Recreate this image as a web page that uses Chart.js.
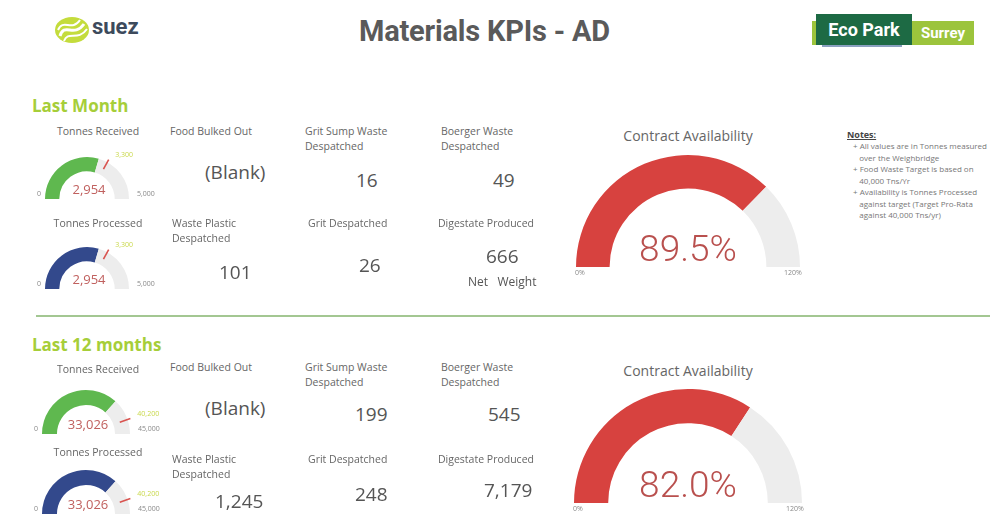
<!DOCTYPE html>
<html>
<head>
<meta charset="utf-8">
<script src="https://cdn.jsdelivr.net/npm/chart.js@4.4.1/dist/chart.umd.min.js"></script>
<style>
  html, body { margin: 0; padding: 0; background: #fff; }
  body { width: 1003px; height: 517px; position: relative; overflow: hidden; font-family: "Open Sans", "DejaVu Sans", sans-serif; }
  .abs { position: absolute; white-space: nowrap; }
  .sect { color: #a6ce39; font-weight: bold; font-size: 17px; }
  .ktitle { color: #666; font-size: 10.5px; line-height: 15px; }
  .kval { color: #555; font-size: 19px; }
  .gtitle { color: #666; font-size: 10.5px; transform: translateX(-50%); }
  .tiny { color: #888; font-size: 7px; }
  .tgt { color: #c9d84a; font-size: 7px; }
  .gval { color: #c0605e; font-size: 13px; transform: translate(-50%, -100%); }
  .bigval { color: #b9504e; font-size: 37px; font-family: Roboto, "Open Sans", sans-serif; font-weight: 300; transform: translate(-50%, -100%); }
  .btitle { color: #666; font-size: 14px; transform: translateX(-50%); }
  canvas { position: absolute; }
  .notes { color: #777; font-size: 8px; line-height: 11.5px; }
</style>
</head>
<body>

<!-- header -->
<svg class="abs" style="left:54px;top:16px" width="36" height="28" viewBox="0 0 36 28">
  <ellipse cx="18" cy="14" rx="17" ry="13" fill="#c4dc3c"/>
  <path d="M6 20 C10 6, 20 22, 30 8" stroke="#fff" stroke-width="3" fill="none"/>
  <path d="M4 14 C9 2, 18 16, 26 4" stroke="#fff" stroke-width="2" fill="none"/>
  <path d="M10 25 C14 14, 24 26, 33 13" stroke="#fff" stroke-width="2" fill="none"/>
</svg>
<div class="abs" style="left:92px;top:14px;font-size:22px;font-weight:bold;color:#3d4a5c;font-family:Roboto,sans-serif;">suez</div>
<div class="abs" style="left:359px;top:14px;font-size:29px;font-weight:bold;color:#5a5a5a;font-family:Roboto,sans-serif;letter-spacing:-0.2px;">Materials KPIs - AD</div>
<div class="abs" style="left:812px;top:21px;width:162px;height:24px;background:#9cc43c;"></div>
<div class="abs" style="left:822px;top:44px;width:80px;height:3px;background:#8aa0c0;"></div>
<div class="abs" style="left:816px;top:14px;width:96px;height:31px;background:#1d6a44;"></div>
<div class="abs" style="left:816px;top:14px;width:96px;line-height:31px;text-align:center;font-size:18px;font-weight:bold;color:#fff;font-family:Roboto,sans-serif;">Eco Park</div>
<div class="abs" style="left:912px;top:21px;width:62px;line-height:24px;text-align:center;font-size:15px;font-weight:bold;color:#fff;font-family:Roboto,sans-serif;">Surrey</div>

<!-- sections -->
<div class="abs sect" style="left:32px;top:94px;">Last Month</div>
<div class="abs" style="left:36px;top:315px;width:954px;height:2px;background:#a3c792;"></div>
<div class="abs sect" style="left:32px;top:333px;">Last 12 months</div>

<!-- notes -->
<div class="abs" style="left:847px;top:128px;font-size:9px;font-weight:bold;color:#444;text-decoration:underline;">Notes:</div>
<div class="abs notes" style="left:853px;top:140px;">
  + All values are in Tonnes measured<br>&nbsp;&nbsp;&nbsp;over the Weighbridge<br>
  + Food Waste Target is based on<br>&nbsp;&nbsp;&nbsp;40,000 Tns/Yr<br>
  + Availability is Tonnes Processed<br>&nbsp;&nbsp;&nbsp;against target (Target Pro-Rata<br>&nbsp;&nbsp;&nbsp;against 40,000 Tns/yr)
</div>

<script>
// gauges: last month received, last month processed, 12 months received, 12 months processed
const gaugeTitles = ["Tonnes Received", "Tonnes Processed", "Tonnes Received", "Tonnes Processed"];
const gaugeValues = [2954, 2954, 33026, 33026];
const gaugeMax = [5000, 5000, 45000, 45000];
const gaugeTargets = [3300, 3300, 40200, 40200];
const gaugeColors = ["#5fb84f", "#33498c", "#5fb84f", "#33498c"];

// contract availability, last month and 12 months (%)
const availValues = [89.5, 82.0];
const availMax = 120;

// KPI cards, last month then 12 months
const kpiTitles = [
  "Food Bulked Out", "Grit Sump Waste<br>Despatched", "Boerger Waste<br>Despatched",
  "Waste Plastic<br>Despatched", "Grit Despatched", "Digestate Produced"
];
const kpiLastMonth = [null, 16, 49, 101, 26, 666];
const kpiLast12 = [null, 199, 545, 1245, 248, 7179];

// layout (page pixels)
const gaugePos = [[87, 199, 42], [87, 289, 42], [86, 434, 44], [86, 514, 44]];
const gaugeTitleY = [124, 216, 362, 445];
const availPos = [[688, 267, 112], [688, 503, 114]];
const availTitleY = [126, 361];
const kpiTitlePos = [[170, 124], [305, 124], [441, 124], [172, 216], [308, 216], [438, 216]];
const kpiValPosLM = [[205, 159], [356, 167], [493, 167], [219, 259], [359, 252], [486, 243]];
const kpiValPosYr = [[205, 395], [355, 401], [488, 401], [215, 488], [355, 481], [484, 477]];

function fmt(v) { return v.toLocaleString("en-US"); }

function addText(cls, x, y, html, style) {
  const d = document.createElement("div");
  d.className = "abs " + cls;
  d.style.left = x + "px";
  d.style.top = y + "px";
  if (style) d.style.cssText += style;
  d.innerHTML = html;
  document.body.appendChild(d);
  return d;
}

const targetMarker = {
  id: "targetMarker",
  afterDatasetsDraw(chart, args, opts) {
    if (opts.target == null) return;
    const arc = chart.getDatasetMeta(0).data[0];
    const ang = -Math.PI + Math.PI * opts.target / opts.max;
    const r1 = arc.innerRadius + (arc.outerRadius - arc.innerRadius) * 0.45;
    const r2 = arc.outerRadius + 3;
    const ctx = chart.ctx;
    ctx.save();
    ctx.strokeStyle = "#d9534f";
    ctx.lineWidth = 1.6;
    ctx.beginPath();
    ctx.moveTo(arc.x + r1 * Math.cos(ang), arc.y + r1 * Math.sin(ang));
    ctx.lineTo(arc.x + r2 * Math.cos(ang), arc.y + r2 * Math.sin(ang));
    ctx.stroke();
    ctx.restore();
  }
};

function makeGauge(cx, cy, r, cutout, value, max, color, target) {
  const pad = 8;
  const c = document.createElement("canvas");
  c.width = 2 * r + 2 * pad;
  c.height = r + pad;
  c.style.left = (cx - r - pad) + "px";
  c.style.top = (cy - r - pad) + "px";
  document.body.appendChild(c);
  return new Chart(c, {
    type: "doughnut",
    data: {
      datasets: [{
        data: [value, max - value],
        backgroundColor: [color, "#ededed"],
        borderWidth: 0
      }]
    },
    options: {
      responsive: false,
      animation: false,
      events: [],
      rotation: -90,
      circumference: 180,
      cutout: cutout,
      layout: { padding: { left: pad, right: pad, top: pad, bottom: 0 } },
      plugins: {
        legend: { display: false },
        tooltip: { enabled: false },
        targetMarker: { target: target, max: max }
      }
    },
    plugins: [targetMarker]
  });
}

// small gauges
gaugeValues.forEach((v, i) => {
  const [cx, cy, r] = gaugePos[i];
  addText("gtitle", 98, gaugeTitleY[i], gaugeTitles[i]);
  makeGauge(cx, cy, r, "66%", v, gaugeMax[i], gaugeColors[i], gaugeTargets[i]);
  addText("gval", cx + 2, cy - 1, fmt(v));
  addText("tiny", cx - r - 8, cy - 10, "0");
  addText("tiny", cx + r + 8, cy - 10, fmt(gaugeMax[i]));
  const ang = -Math.PI + Math.PI * gaugeTargets[i] / gaugeMax[i];
  addText("tgt", cx + (r + 4) * Math.cos(ang) + 6, cy + (r + 4) * Math.sin(ang) - 9, fmt(gaugeTargets[i]));
});

// contract availability gauges
availValues.forEach((v, i) => {
  const [cx, cy, r] = availPos[i];
  addText("btitle", cx, availTitleY[i], "Contract Availability");
  makeGauge(cx, cy, r, "70%", v, availMax, "#d7423f", null);
  addText("bigval", cx, cy + 3, v.toFixed(1) + "%");
  addText("tiny", cx - r - 1, cy + 1, "0%");
  addText("tiny", cx + r - 16, cy + 1, availMax + "%");
});

// KPI cards
[[kpiLastMonth, kpiValPosLM, 0], [kpiLast12, kpiValPosYr, 236]].forEach(([vals, vpos, dy], s) => {
  kpiTitles.forEach((t, i) => {
    const [tx, ty] = kpiTitlePos[i];
    addText("ktitle", tx, ty + dy, t);
    const v = vals[i];
    addText("kval", vpos[i][0], vpos[i][1], v == null ? "(Blank)" : fmt(v));
  });
});
addText("ktitle", 468, 274, "Net&nbsp;&nbsp;&nbsp;Weight", "font-size:12px;color:#555;");
</script>
</body>
</html>
